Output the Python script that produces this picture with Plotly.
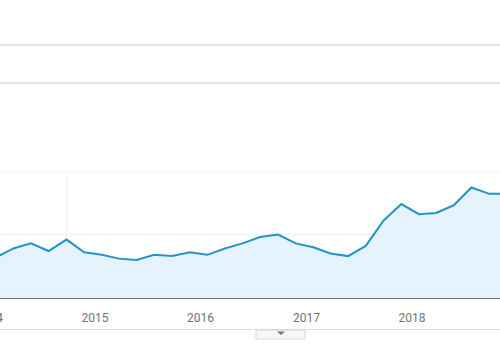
import plotly.graph_objects as go

# ---- data ----
dates = [
    "2014-01-25", "2014-03-25", "2014-05-25", "2014-07-25", "2014-09-25", "2014-11-25",
    "2015-01-25", "2015-03-25", "2015-05-25", "2015-07-25", "2015-09-25", "2015-11-25",
    "2016-01-25", "2016-03-25", "2016-05-25", "2016-07-25", "2016-09-25", "2016-11-25",
    "2017-01-25", "2017-03-25", "2017-05-25", "2017-07-25", "2017-09-25", "2017-11-25",
    "2018-01-25", "2018-03-25", "2018-05-25", "2018-07-25", "2018-09-25", "2018-11-25",
]
interest = [32, 39, 43, 37, 46, 36, 34, 31, 30, 34, 33, 36,
            34, 39, 43, 48, 50, 43, 40, 35, 33, 41, 61, 74,
            66, 67, 73, 87, 82, 82]
tick_dates = ["2015-01-01", "2016-01-01", "2017-01-01", "2018-01-01"]
tick_labels = ["2015", "2016", "2017", "2018"]
cut_label = "2014"  # partly cut off at the left edge
hover_index = 4

W, H = 500, 350

def py(pix):
    """convert pixel y (from top) to paper y"""
    return 1 - pix / H

def px(pix):
    return pix / W

fig = go.Figure()
fig.add_trace(go.Scatter(
    x=dates, y=interest, mode="lines",
    line=dict(color="#2394cb", width=2),
    fill="tozeroy", fillcolor="#e6f3fc",
    hoverinfo="skip", showlegend=False,
))

shapes = []
# upper UI lines
for yp in (45, 83):
    shapes.append(dict(type="line", xref="paper", yref="paper", x0=0, x1=1,
                       y0=py(yp), y1=py(yp), line=dict(color="#dcdcdc", width=1.5)))
# top gridline of the plot
shapes.append(dict(type="line", xref="paper", yref="y", x0=0, x1=1,
                   y0=100, y1=100, line=dict(color="#f1f1f1", width=1), layer="below"))
# hover vertical line
shapes.append(dict(type="line", xref="x", yref="y", x0=dates[hover_index], x1=dates[hover_index],
                   y0=0, y1=100, line=dict(color="#f2f2f2", width=1), layer="below"))
# bottom border of label area
shapes.append(dict(type="line", xref="paper", yref="paper", x0=0, x1=1,
                   y0=py(329.5), y1=py(329.5), line=dict(color="#dddddd", width=1)))
# small toggle button
shapes.append(dict(type="rect", xref="paper", yref="paper", x0=px(256), x1=px(305),
                   y0=py(339), y1=py(330), line=dict(color="#d6d6d6", width=1),
                   fillcolor="#f7f7f7"))
shapes.append(dict(type="path", xref="paper", yref="paper",
                   path=f"M {px(277)} {py(331.5)} L {px(285)} {py(331.5)} L {px(281)} {py(335)} Z",
                   fillcolor="#777777", line=dict(width=0)))

fig.update_layout(
    width=W, height=H,
    margin=dict(l=0, r=0, t=0, b=0),
    paper_bgcolor="white", plot_bgcolor="white",
    font=dict(family="Roboto, Arial, sans-serif", size=12, color="#737373"),
    shapes=shapes,
    annotations=[dict(text=cut_label, xref="paper", yref="paper",
                      x=px(-11), y=py(318), xanchor="center", yanchor="middle",
                      showarrow=False, font=dict(size=12, color="#737373"))],
    xaxis=dict(
        type="date", range=["2014-02-07", "2018-11-01"],
        tickvals=tick_dates, ticktext=tick_labels,
        showgrid=False, zeroline=False,
        showline=True, linecolor="#707070", linewidth=1,
        ticks="outside", ticklen=9, tickcolor="rgba(0,0,0,0)",
        fixedrange=True,
    ),
    yaxis=dict(
        range=[0, 100], domain=[py(298), py(171)],
        tickvals=[50], showticklabels=False,
        showgrid=True, gridcolor="#f1f1f1", gridwidth=1,
        zeroline=False, showline=False, fixedrange=True,
    ),
)

fig.write_html("out.html")
